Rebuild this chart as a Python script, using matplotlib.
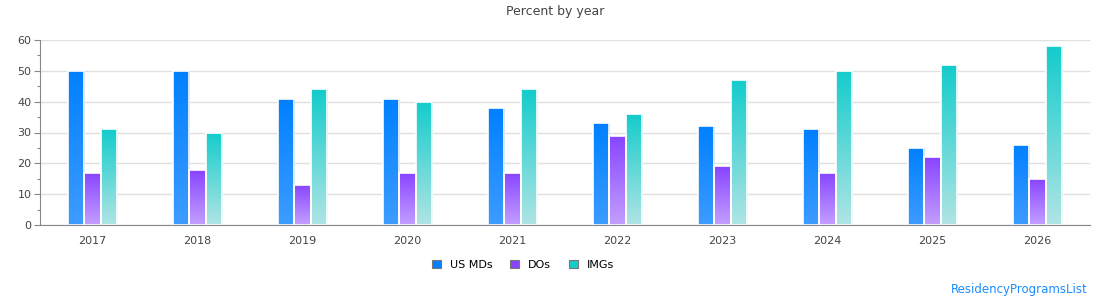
import numpy as np
import matplotlib
matplotlib.use("Agg")
import matplotlib.pyplot as plt
from matplotlib.colors import LinearSegmentedColormap
from matplotlib.patches import Patch

# -------------------------------
# Data (percent by year)
# -------------------------------
years = ["2017", "2018", "2019", "2020", "2021", "2022", "2023", "2024", "2025", "2026"]
us_mds = [50, 50, 41, 41, 38, 33, 32, 31, 25, 26]
dos = [17, 18, 13, 17, 17, 29, 19, 17, 22, 15]
imgs = [31, 30, 44, 40, 44, 36, 47, 50, 52, 58]

series = [
    ("US MDs", us_mds, "#0080ff", "#3d9cff"),
    ("DOs", dos, "#8844ff", "#c39fff"),
    ("IMGs", imgs, "#14cccc", "#b0e4e4"),
]

fig = plt.figure(figsize=(11.1, 3.0), dpi=100)
ax = fig.add_axes([40 / 1110, 75 / 300, 1050 / 1110, 185 / 300])

x = np.arange(len(years))
width = 0.155
offsets = [-width, 0, width]
grad = np.linspace(0, 1, 128).reshape(-1, 1)

for (name, vals, top_c, bot_c), off in zip(series, offsets):
    bars = ax.bar(x + off, vals, width, color="none", edgecolor="none", zorder=3)
    cmap = LinearSegmentedColormap.from_list(name, [top_c, bot_c])
    for b in bars:
        x0, y0 = b.get_x(), b.get_y()
        w, h = b.get_width(), b.get_height()
        im = ax.imshow(grad, cmap=cmap, aspect="auto", origin="upper",
                       extent=[x0, x0 + w, y0, y0 + h], zorder=3)
        im.set_clip_path(b)
    # white outline like the original chart
    ax.bar(x + off, vals, width, color="none", edgecolor="white", linewidth=1.2, zorder=4)

ax.set_xlim(-0.5, len(years) - 0.5)
ax.set_ylim(0, 60)
ax.set_yticks(np.arange(0, 61, 10))
ax.set_yticks(np.arange(0, 61, 5), minor=True)
ax.set_xticks(x)
ax.set_xticklabels(years)
ax.tick_params(axis="x", length=0, pad=8, labelsize=8, colors="#444444")
ax.tick_params(axis="y", which="major", length=4, width=0.8, color="#888888",
               labelsize=8, labelcolor="#444444", pad=2)
ax.tick_params(axis="y", which="minor", length=2, width=0.8, color="#888888")
ax.grid(axis="y", color="#e0e0e0", linewidth=1, zorder=0)
ax.set_axisbelow(True)
for s in ["top", "right"]:
    ax.spines[s].set_visible(False)
ax.spines["left"].set_color("#888888")
ax.spines["bottom"].set_color("#888888")
ax.spines["bottom"].set_zorder(5)

fig.text(0.5, 0.96, "Percent by year", ha="center", va="center", fontsize=9, color="#444444")

handles = [Patch(facecolor=c, edgecolor="#777777", linewidth=0.8, label=n) for n, _, c, _ in series]
fig.legend(handles=handles, loc="center", bbox_to_anchor=(523 / 1110, 1 - 265 / 300),
           ncol=3, frameon=False, fontsize=8, handlelength=0.8, handleheight=0.8,
           handletextpad=0.8, columnspacing=1.6)

fig.text(1088 / 1110, 1 - 290 / 300, "ResidencyProgramsList", ha="right", va="center",
         fontsize=8.5, color="#1a8cff")

fig.savefig("out.png", dpi=100)
